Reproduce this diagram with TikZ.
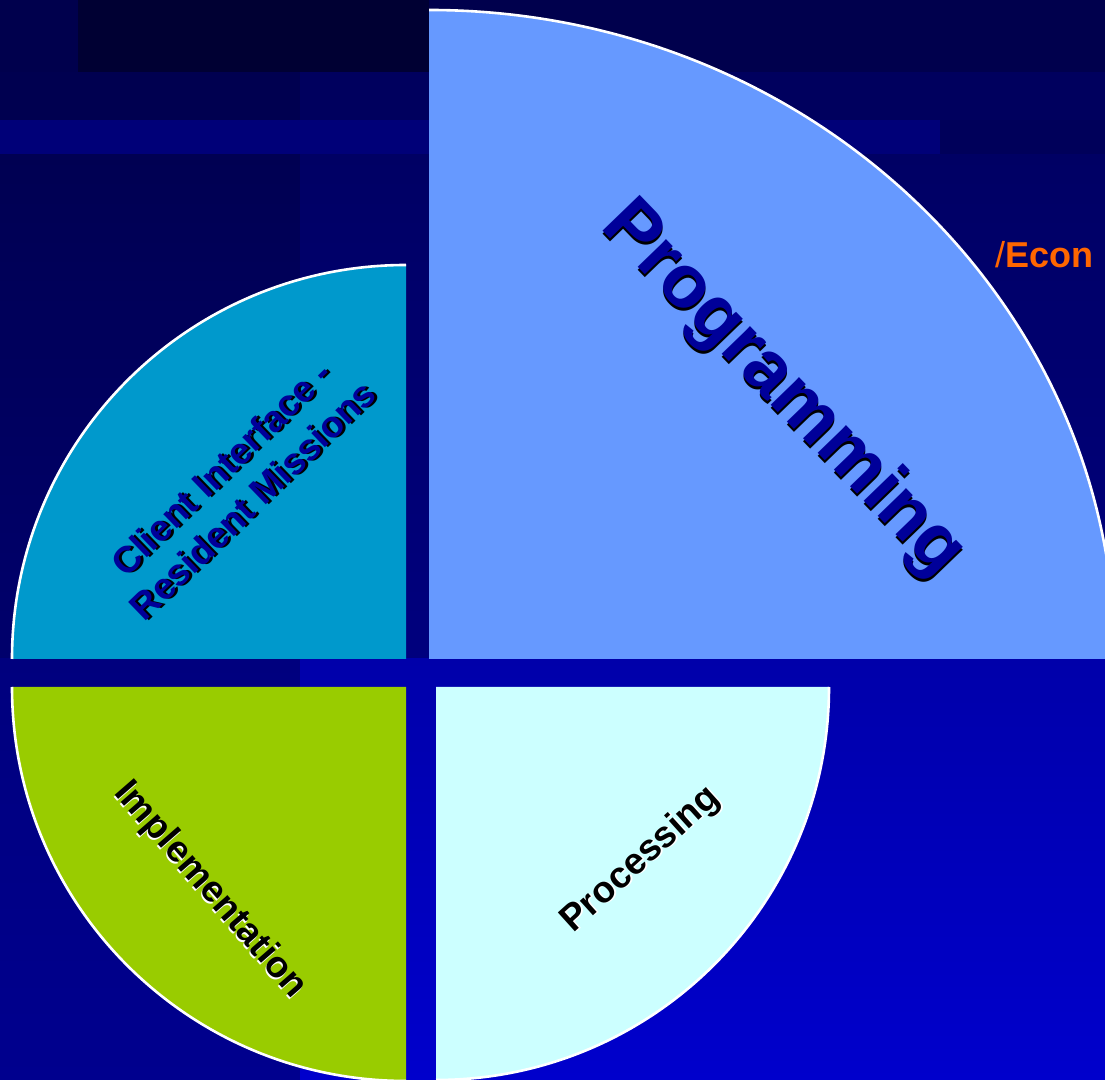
\documentclass[tikz,border=0pt]{standalone}
\usepackage{fontspec}
\setmainfont{Liberation Sans}
\definecolor{progfill}{HTML}{6699FF}
\definecolor{clientfill}{HTML}{0099CC}
\definecolor{implfill}{HTML}{99CC00}
\definecolor{procfill}{HTML}{CCFFFF}
\definecolor{labelblue}{HTML}{000099}
\definecolor{econ}{HTML}{FF6600}
\definecolor{bgA}{HTML}{00004D}
\definecolor{bgAdark}{HTML}{000033}
\definecolor{bgBl}{HTML}{000050}
\definecolor{bgBr}{HTML}{00005E}
\definecolor{bgC}{HTML}{000078}
\definecolor{bgCr}{HTML}{00005A}
\definecolor{bgDlt}{HTML}{000052}
\definecolor{bgDlb}{HTML}{00006C}
\definecolor{bgDrt}{HTML}{000064}
\definecolor{bgDrb}{HTML}{00007E}
\definecolor{bgElt}{HTML}{00007E}
\definecolor{bgElb}{HTML}{00008E}
\definecolor{bgErt}{HTML}{0000AA}
\definecolor{bgErb}{HTML}{0000CC}
\begin{document}
\begin{tikzpicture}[x=1pt,y=1pt,
  rim/.style={draw=white, line width=2.6pt},
  biglabel/.style={font=\bfseries\fontsize{75}{80}\selectfont, inner sep=0pt},
  midlabel/.style={font=\bfseries\fontsize{37}{45}\selectfont, inner sep=0pt, align=center},
  econlabel/.style={font=\bfseries\fontsize{36}{40}\selectfont, inner sep=0pt, anchor=base west, text=econ}]
\useasboundingbox (0,0) rectangle (1105,1079);
\begin{scope}
\clip (0,0) rectangle (1105,1079);
% background patchwork
\fill[bgA] (0,1007) rectangle (1105,1079);
\fill[bgAdark] (78,1007) rectangle (429,1079);
\fill[bgBl] (0,959) rectangle (300,1007);
\fill[bgBr] (300,959) rectangle (1105,1007);
\fill[bgC] (0,924) rectangle (940,959);
\fill[bgCr] (940,924) rectangle (1105,959);
\shade[top color=bgDlt, bottom color=bgDlb] (0,420) rectangle (300,924);
\shade[top color=bgDrt, bottom color=bgDrb] (300,420) rectangle (1105,924);
\shade[top color=bgElt, bottom color=bgElb] (0,0) rectangle (300,420);
\shade[top color=bgErt, bottom color=bgErb] (300,0) rectangle (1105,420);

% sectors
\fill[progfill] (429,420) -- (429,1069) arc[start angle=90, end angle=0, x radius=686pt, y radius=649pt] -- cycle;
\draw[rim] (429,1069) arc[start angle=90, end angle=0, x radius=686pt, y radius=649pt];

\fill[clientfill] (406,420) -- (12,420) arc[start angle=180, end angle=90, radius=394pt] -- cycle;
\draw[rim] (12,420) arc[start angle=180, end angle=90, radius=394pt];

\fill[implfill] (406,392) -- (12,392) arc[start angle=180, end angle=270, radius=394pt] -- cycle;
\draw[rim] (12,392) arc[start angle=180, end angle=270, radius=394pt];

\fill[procfill] (436,392) -- (829,392) arc[start angle=0, end angle=-90, radius=393pt] -- cycle;
\draw[rim] (829,392) arc[start angle=0, end angle=-90, radius=393pt];

% labels
\node[biglabel, text=black, rotate=-46] (progshadow) at (783,686) {Programming};
\node[biglabel, text=labelblue, rotate=-46] (prog) at (783,689) {Programming};

\node[midlabel, text=black, rotate=44] (clientshadow) at (240,595) {Client Interface -\\Resident Missions};
\node[midlabel, text=labelblue, rotate=44] (client) at (237,595) {Client Interface -\\Resident Missions};

\node[midlabel, text=white, rotate=-49] (implshadow) at (209,187) {Implementation};
\node[midlabel, text=black, rotate=-49] (impl) at (210,189) {Implementation};

\node[midlabel, text=white, rotate=42] (procshadow) at (643,219) {Processing};
\node[midlabel, text=black, rotate=42] (proc) at (641,219) {Processing};

\node[econlabel] (econ) at (995,811) {{\mdseries /}Econ};
\end{scope}
\end{tikzpicture}
\end{document}
